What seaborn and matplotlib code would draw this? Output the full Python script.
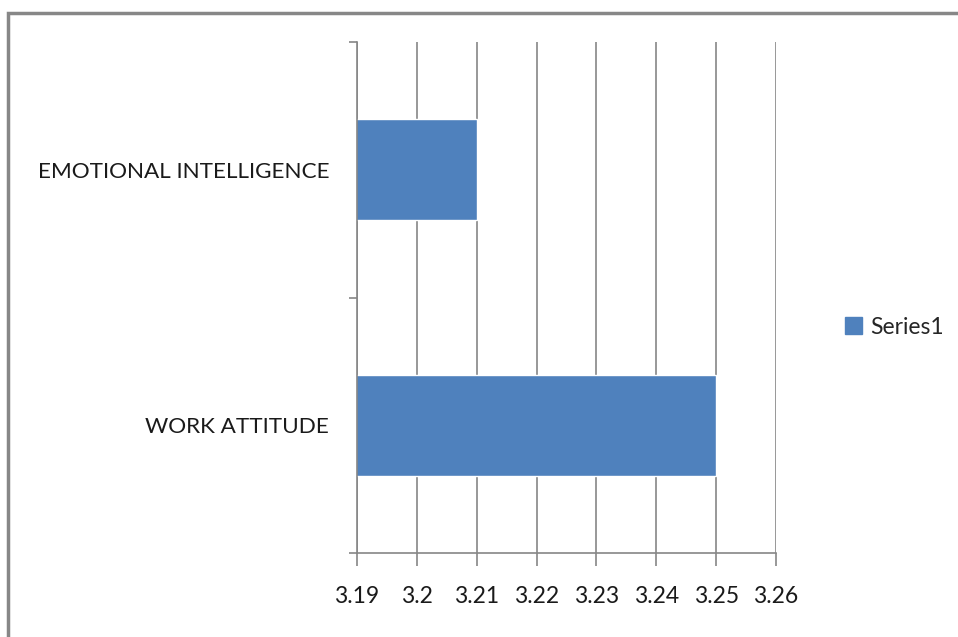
import matplotlib
matplotlib.use("Agg")
import matplotlib.pyplot as plt
import matplotlib.patches as mpatches
import seaborn as sns
import pandas as pd
import numpy as np

categories = ["EMOTIONAL INTELLIGENCE", "WORK ATTITUDE"]
values = [3.21, 3.25]
series = ["Series1", "Series1"]
xticks = [3.19, 3.20, 3.21, 3.22, 3.23, 3.24, 3.25, 3.26]
xtick_labels = ["3.19", "3.2", "3.21", "3.22", "3.23", "3.24", "3.25", "3.26"]

df = pd.DataFrame({"category": categories, "value": values, "series": series})

sns.set_style("white")
plt.rcParams["font.family"] = ["Lato", "DejaVu Sans"]

fig = plt.figure(figsize=(9.58, 6.37), dpi=100)
ax = fig.add_axes([357/958, 1-553/637, (776-357)/958, (553-42)/637])

sns.barplot(data=df, x="value", y="category", hue="series", order=categories,
            palette=["#4F81BD"], orient="h", width=0.395, ax=ax, legend=True,
            saturation=1)

grey = "#868686"
ax.set_xlim(3.19, 3.26)
ax.set_ylim(1.5, -0.5)
ax.set_xticks(xticks)
ax.set_xticklabels(xtick_labels)
ax.set_xlabel("")
ax.set_ylabel("")
ax.xaxis.grid(True, color=grey, linewidth=1.2)
ax.set_axisbelow(True)
for s in ["top", "right"]:
    ax.spines[s].set_visible(False)
for s in ["left", "bottom"]:
    ax.spines[s].set_visible(True)
    ax.spines[s].set_color(grey)
    ax.spines[s].set_linewidth(1.2)

ax.tick_params(axis="x", which="major", direction="out", length=9, width=1.2,
               color=grey, pad=15, labelsize=16.5, labelcolor="#1a1a1a", bottom=True)
ax.set_yticks([-0.5, 0.5, 1.5], minor=True)
ax.tick_params(axis="y", which="minor", direction="out", length=6, width=1.2, color=grey, left=True)
ax.tick_params(axis="y", which="major", length=0, pad=20, labelsize=16.2, labelcolor="#1a1a1a")

leg = ax.get_legend()
if leg is not None:
    leg.remove()
handle = mpatches.Patch(color="#4F81BD")
fig.legend([handle], ["Series1"], loc="center left",
           bbox_to_anchor=(845/958, 1-327/637), frameon=False, fontsize=16.5,
           handlelength=0.75, handleheight=0.75, handletextpad=0.35,
           borderpad=0, borderaxespad=0)

fig.patches.append(mpatches.Rectangle((8/958, -0.1), 1.2, 1-13/637+0.1,
                                      transform=fig.transFigure, fill=False,
                                      edgecolor="#878787", linewidth=2.5))

fig.savefig("out.png", dpi=100)
